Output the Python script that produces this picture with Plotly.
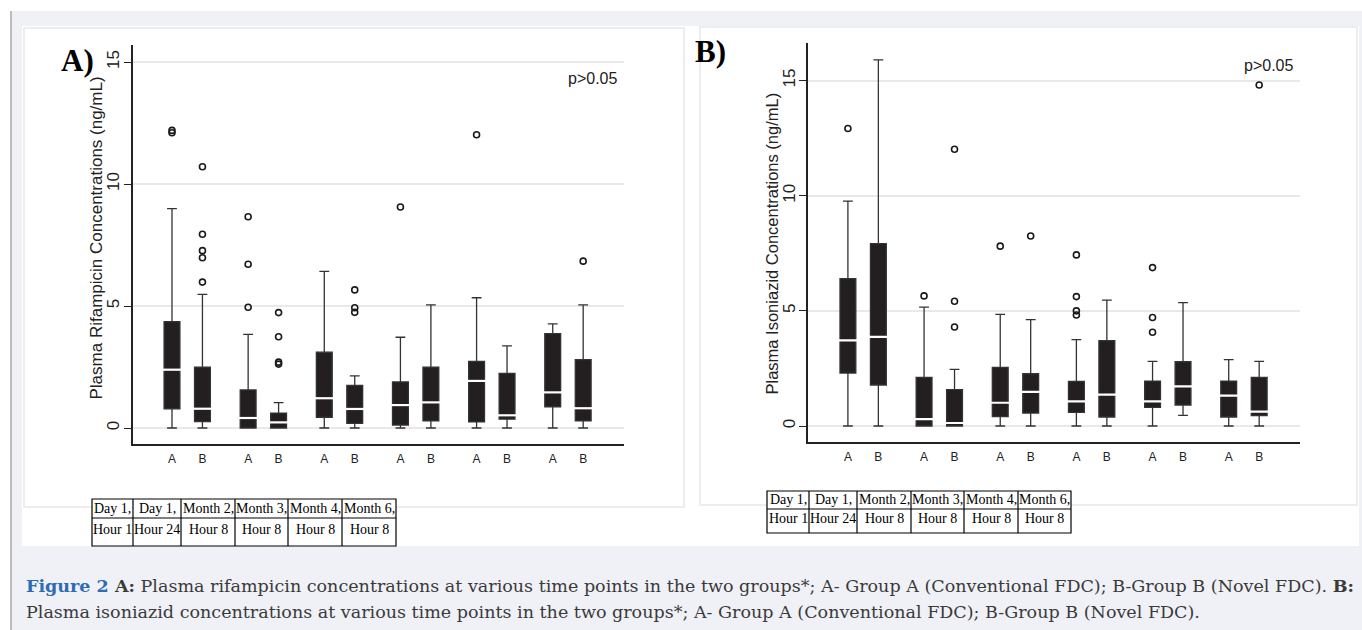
import plotly.graph_objects as go

# ---------------- data ----------------
tp_line1 = ["Day 1,", "Day 1,", "Month 2,", "Month 3,", "Month 4,", "Month 6,"]
tp_line2 = ["Hour 1", "Hour 24", "Hour 8", "Hour 8", "Hour 8", "Hour 8"]
groups = ["A", "B"]

# Rifampicin (panel A); order: T1-A, T1-B, T2-A, T2-B, ...
rif_q1 = [0.79, 0.26, 0.00, 0.00, 0.44, 0.19, 0.12, 0.29, 0.25, 0.36, 0.87, 0.29]
rif_median = [2.39, 0.79, 0.41, 0.23, 1.22, 0.78, 0.94, 1.05, 1.93, 0.52, 1.46, 0.81]
rif_q3 = [4.36, 2.49, 1.56, 0.61, 3.11, 1.75, 1.89, 2.49, 2.73, 2.24, 3.87, 2.80]
rif_lower = [0, 0, 0, 0, 0, 0, 0, 0, 0, 0, 0, 0]
rif_upper = [8.99, 5.48, 3.84, 1.04, 6.42, 2.14, 3.72, 5.05, 5.34, 3.37, 4.27, 5.05]
rif_outliers = [[12.1, 12.2], [10.71, 7.94, 7.27, 6.98, 5.98], [8.66, 6.71, 4.95],
                [4.73, 3.74, 2.70, 2.62], [], [5.66, 4.93, 4.74], [9.06], [],
                [12.02], [], [], [6.84]]

# Isoniazid (panel B)
inh_q1 = [2.30, 1.78, 0.00, 0.00, 0.41, 0.56, 0.59, 0.39, 0.81, 0.91, 0.39, 0.45]
inh_median = [3.72, 3.87, 0.30, 0.13, 1.01, 1.48, 1.07, 1.36, 1.07, 1.72, 1.32, 0.62]
inh_q3 = [6.40, 7.92, 2.11, 1.58, 2.55, 2.27, 1.94, 3.71, 1.95, 2.79, 1.95, 2.11]
inh_lower = [0, 0, 0, 0, 0, 0, 0, 0, 0, 0.46, 0, 0]
inh_upper = [9.77, 15.90, 5.16, 2.46, 4.85, 4.62, 3.75, 5.47, 2.81, 5.36, 2.88, 2.81]
inh_outliers = [[12.92], [], [5.65], [12.02, 5.42, 4.30], [7.81], [8.25],
                [7.43, 5.62, 5.00, 4.82], [], [6.88, 4.71, 4.07], [], [], [14.81]]

y_ticks = [0, 5, 10, 15]
p_text = "p>0.05"

# ---------------- layout helpers ----------------
W, H = 1362, 630


def px(x):
    return x / W


def py(y):
    return 1 - y / H


n_tp = len(tp_line1)
positions = [2.5 * g + k for g in range(n_tp) for k in range(len(groups))]
pos_labels = [grp for g in range(n_tp) for grp in groups]

DARK = "#231f20"
LINE = "#333333"

fig = go.Figure()


def add_panel(q1, med, q3, lo, up, outl, xa, ya):
    fig.add_trace(go.Box(
        x=positions, q1=q1, median=med, q3=q3, lowerfence=lo, upperfence=up,
        width=0.52, whiskerwidth=0.62, fillcolor=DARK,
        line=dict(color=LINE, width=1.3), boxpoints=False,
        xaxis=xa, yaxis=ya, showlegend=False, hoverinfo="skip"))
    fig.add_trace(go.Scatter(
        x=positions, y=med, mode="markers",
        marker=dict(symbol="line-ew", size=14, line=dict(color="white", width=2.2)),
        xaxis=xa, yaxis=ya, showlegend=False, hoverinfo="skip"))
    ox, oy = [], []
    for p, vals in zip(positions, outl):
        for v in vals:
            ox.append(p)
            oy.append(v)
    fig.add_trace(go.Scatter(
        x=ox, y=oy, mode="markers",
        marker=dict(symbol="circle-open", size=6, color="#1a1a1a", line=dict(width=1.6)),
        xaxis=xa, yaxis=ya, showlegend=False, hoverinfo="skip"))


add_panel(rif_q1, rif_median, rif_q3, rif_lower, rif_upper, rif_outliers, "x", "y")
add_panel(inh_q1, inh_median, inh_q3, inh_lower, inh_upper, inh_outliers, "x2", "y2")

xcommon = dict(tickvals=positions, ticktext=pos_labels, ticks="", showgrid=False,
               zeroline=False, showline=True, linecolor="#222", linewidth=1.5,
               tickfont=dict(family="Liberation Sans", size=12, color="#222"),
               fixedrange=True)
ycommon = dict(tickvals=y_ticks, tickangle=-90, ticks="outside", ticklen=7,
               tickcolor="#222", tickwidth=1.2, showline=True, linecolor="#222",
               linewidth=1.5, showgrid=True, gridcolor="#e9e9e9", gridwidth=2,
               zeroline=False, tickfont=dict(family="Liberation Sans", size=17, color="#222"),
               fixedrange=True)

fig.update_layout(
    width=W, height=H, margin=dict(l=0, r=0, t=0, b=0),
    paper_bgcolor="white", plot_bgcolor="rgba(0,0,0,0)",
    xaxis=dict(domain=[px(133), px(624)], range=[-1.28, 14.84], anchor="y",
               ticklabelstandoff=3, **xcommon),
    yaxis=dict(domain=[py(444), py(45)], range=[-0.656, 15.70], anchor="x",
               ticklabelstandoff=-2, **ycommon),
    xaxis2=dict(domain=[px(808), px(1300)], range=[-1.31, 14.84], anchor="y2",
                ticklabelstandoff=3, **xcommon),
    yaxis2=dict(domain=[py(442.3), py(43.3)], range=[-0.708, 16.62], anchor="x2",
                ticklabelstandoff=-3, **ycommon),
)

shapes = []
# page background + left border
shapes.append(dict(type="rect", xref="paper", yref="paper", x0=px(11), x1=px(1362),
                   y0=py(630), y1=py(11), fillcolor="#f0f1f7", line=dict(width=0), layer="below"))
shapes.append(dict(type="line", xref="paper", yref="paper", x0=px(11), x1=px(11),
                   y0=py(630), y1=py(11), line=dict(color="#a8a8b0", width=1.5), layer="below"))
# figure image area
shapes.append(dict(type="rect", xref="paper", yref="paper", x0=px(22), x1=px(1359),
                   y0=py(546), y1=py(26), fillcolor="white", line=dict(width=0), layer="below"))
# panel borders
for (x0, y0, x1, y1) in [(24, 28, 684, 507), (700, 27, 1357, 505)]:
    shapes.append(dict(type="rect", xref="paper", yref="paper", x0=px(x0), x1=px(x1),
                       y0=py(y1), y1=py(y0), fillcolor="rgba(0,0,0,0)",
                       line=dict(color="#e8e8e8", width=1.5), layer="below"))

annotations = []


def note(x, y, text, font, xanchor="center", angle=0):
    annotations.append(dict(xref="paper", yref="paper", x=px(x), y=py(y), text=text,
                            showarrow=False, xanchor=xanchor, yanchor="middle",
                            textangle=angle, font=font))


def table(cols, rows, y_text1, y_text2):
    shapes.append(dict(type="rect", xref="paper", yref="paper", x0=px(cols[0]), x1=px(cols[-1]),
                       y0=py(rows[-1]), y1=py(rows[0]), fillcolor="white",
                       line=dict(color="black", width=1.2)))
    for c in cols[1:-1]:
        shapes.append(dict(type="line", xref="paper", yref="paper", x0=px(c), x1=px(c),
                           y0=py(rows[-1]), y1=py(rows[0]), line=dict(color="black", width=1.2)))
    shapes.append(dict(type="line", xref="paper", yref="paper", x0=px(cols[0]), x1=px(cols[-1]),
                       y0=py(rows[1]), y1=py(rows[1]), line=dict(color="black", width=1.2)))
    tfont = dict(family="Liberation Serif", size=14, color="black")
    for i in range(n_tp):
        cx = (cols[i] + cols[i + 1]) / 2
        note(cx, y_text1, tp_line1[i], tfont)
        note(cx, y_text2, tp_line2[i], tfont)


table([92, 133, 181, 235, 288, 342, 396], [499, 518, 546], 508, 529)
table([767, 809, 857, 911, 964, 1018, 1071], [491, 509, 533], 499.5, 518)

# axis titles
note(96, 238.5, "Plasma Rifampicin Concentrations (ng/mL)",
     dict(family="Liberation Sans", size=17, color="#222"), angle=-90)
note(772, 243.5, "Plasma Isoniazid Concentrations (ng/mL)",
     dict(family="Liberation Sans", size=16.5, color="#222"), angle=-90)
# p values
pfont = dict(family="Liberation Sans", size=16, color="#222")
note(592, 78, p_text, pfont)
note(1268, 66, p_text, pfont)
# panel letters
lfont = dict(family="Liberation Serif", size=31, color="black")
note(77, 60, "<b>A)</b>", lfont)
note(710, 51, "<b>B)</b>", lfont)
# caption
cap1 = ("<b><span style='color:#2b6cb5'>Figure 2</span> A:</b> Plasma rifampicin concentrations at "
        "various time points in the two groups*; A- Group A (Conventional FDC); B-Group B (Novel FDC). <b>B:</b>")
cap2 = ("Plasma isoniazid concentrations at various time points in the two groups*; "
        "A- Group A (Conventional FDC); B-Group B (Novel FDC).")
cfont = dict(family="DejaVu Serif", size=17.55, color="#3a3a3a")
note(24, 586, cap1, cfont, xanchor="left")
note(24, 612, cap2, cfont, xanchor="left")

fig.update_layout(shapes=shapes, annotations=annotations, hovermode=False)

fig.write_html("out.html", config={"displayModeBar": False},
               post_script="document.body.style.margin='0';")
